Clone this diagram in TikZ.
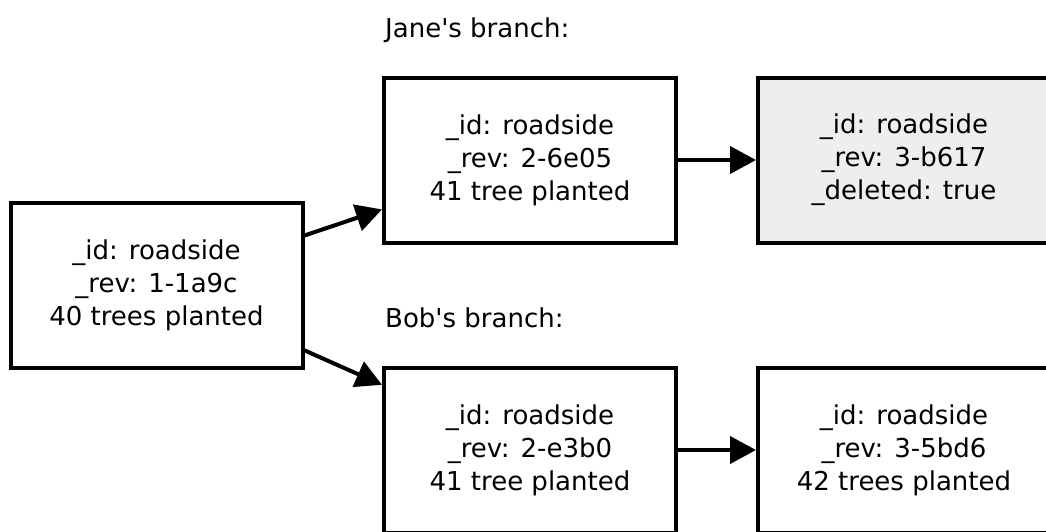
\documentclass[tikz,border=0pt]{standalone}
\usepackage{fontspec}
\setmainfont{DejaVu Sans}
\usetikzlibrary{arrows.meta}
\definecolor{deletedgray}{HTML}{EEEEEE}

\begin{document}
\begin{tikzpicture}[x=1pt, y=-1pt, >={Triangle[length=26pt,width=27pt]},
  docbox/.style={draw, line width=4pt, minimum width=292pt, minimum height=165pt,
    align=center, inner sep=0pt, font=\fontsize{26}{33}\selectfont},
  branchlabel/.style={anchor=base west, inner sep=0pt, font=\fontsize{26}{33}\selectfont},
  link/.style={->, line width=4pt}]
\useasboundingbox (0,0) rectangle (1046,531);
\node[docbox] (root) at (156.5,285) {\_id: roadside\\\_rev: 1-1a9c\\40 trees planted};
\node[branchlabel] (janelabel) at (385,37) {Jane\textquotesingle s branch:};
\node[docbox] (jane1) at (530,160) {\_id: roadside\\\_rev: 2-6e05\\41 tree planted};
\node[docbox, fill=deletedgray] (jane2) at (904,160) {\_id: roadside\\\_rev: 3-b617\\\_deleted: true};
\node[branchlabel] (boblabel) at (385,327) {Bob\textquotesingle s branch:};
\node[docbox] (bob1) at (530,450) {\_id: roadside\\\_rev: 2-e3b0\\41 tree planted};
\node[docbox] (bob2) at (904,450) {\_id: roadside\\\_rev: 3-5bd6\\42 trees planted};
\draw[link] (root) -- (jane1);
\draw[link] (root) -- (bob1);
\draw[link] (jane1) -- (jane2);
\draw[link] (bob1) -- (bob2);
\end{tikzpicture}
\end{document}
